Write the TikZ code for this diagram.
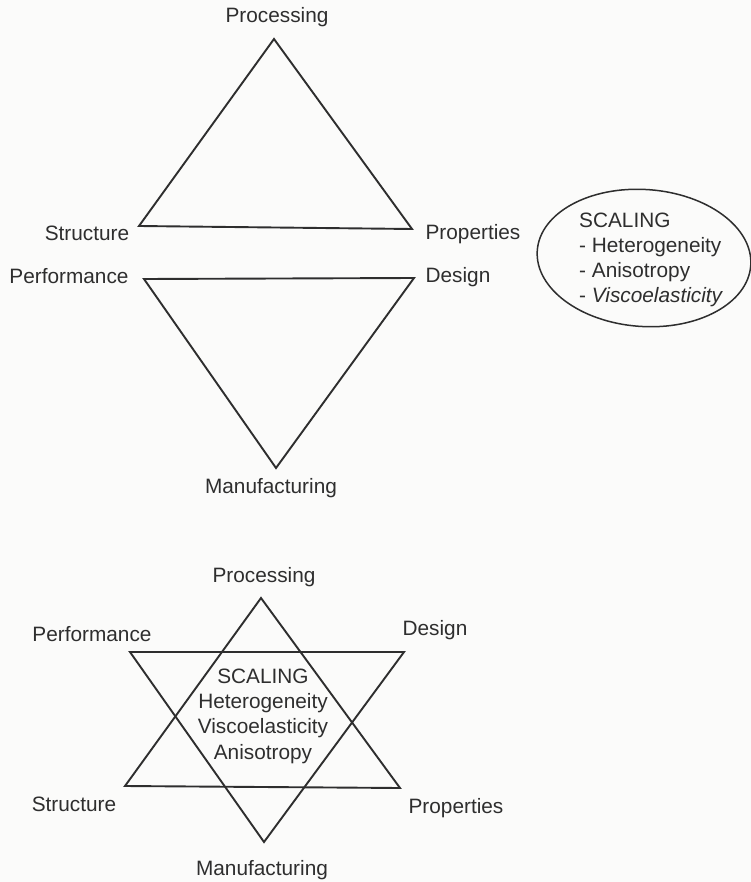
\documentclass[tikz,border=0pt]{standalone}
\usepackage{fontspec}
\setmainfont{Liberation Sans}
\usetikzlibrary{shapes.geometric}
\definecolor{ink}{HTML}{2E2E2E}
\definecolor{paper}{HTML}{FBFBFA}
\begin{document}
\begin{tikzpicture}[x=1pt,y=-1pt,
  lbl/.style={font=\fontsize{20.8}{25}\selectfont, text=ink, inner sep=0pt},
  edge/.style={draw=ink, line width=1.9pt, line join=miter},
  oval/.style={ellipse, draw=ink, line width=1.5pt, inner sep=0pt}]
\useasboundingbox[fill=paper] (0,0) rectangle (751,882);

% ---------- upper triangle ----------
\coordinate (a1) at (274,39);
\coordinate (b1) at (139,226);
\coordinate (c1) at (412,229);
\draw[edge] (a1) -- (b1) -- (c1) -- cycle;
\node[lbl] (proc1) at (277,17) {Processing};
\node[lbl] (struc1) at (87,233) {Structure};
\node[lbl] (prop1) at (473,234) {Properties};

% ---------- inverted triangle ----------
\coordinate (d1) at (144,279);
\coordinate (e1) at (414,278);
\coordinate (f1) at (276,468);
\draw[edge] (d1) -- (e1) -- (f1) -- cycle;
\node[lbl] (perf1) at (69,276) {Performance};
\node[lbl] (des1) at (458,277) {Design};
\node[lbl] (manu1) at (271,488) {Manufacturing};

% ---------- scaling ellipse ----------
\node[oval, minimum width=214pt, minimum height=137pt, rotate=-4] (scalebox) at (644,258) {};
\node[lbl, anchor=west, align=left, font=\fontsize{20.8}{25}\selectfont] (scaletext) at (579,260)
  {SCALING\\- Heterogeneity\\- Anisotropy\\- \textit{Viscoelasticity}};

% ---------- star ----------
\coordinate (u1) at (261,598);
\coordinate (u2) at (125,786);
\coordinate (u3) at (400,788);
\draw[edge] (u1) -- (u2) -- (u3) -- cycle;
\coordinate (v1) at (130,652);
\coordinate (v2) at (404,652);
\coordinate (v3) at (264,842);
\draw[edge] (v1) -- (v2) -- (v3) -- cycle;

\node[lbl] (proc2) at (264,577) {Processing};
\node[lbl] (perf2) at (92,634) {Performance};
\node[lbl] (des2) at (435,630) {Design};
\node[lbl] (struc2) at (74,804) {Structure};
\node[lbl] (prop2) at (456,808) {Properties};
\node[lbl] (manu2) at (262,870) {Manufacturing};
\node[lbl, align=center, font=\fontsize{20.8}{25.3}\selectfont] (core) at (263,716)
  {SCALING\\Heterogeneity\\Viscoelasticity\\Anisotropy};
\end{tikzpicture}
\end{document}
